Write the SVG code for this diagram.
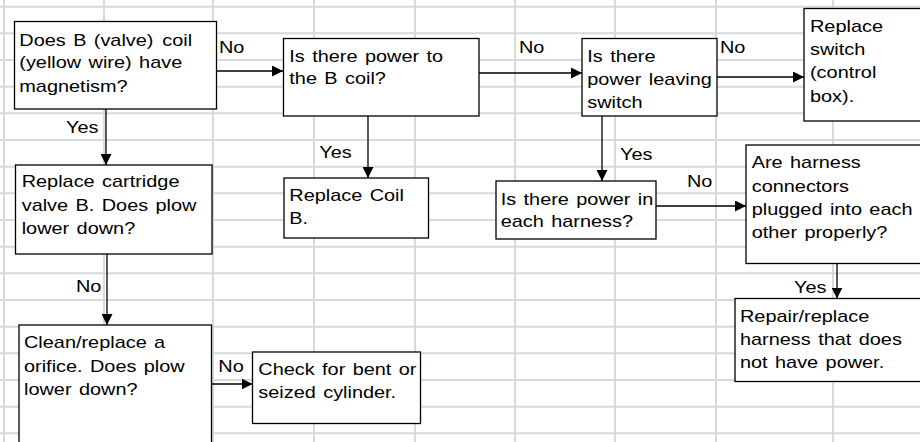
<svg xmlns="http://www.w3.org/2000/svg" width="920" height="442" viewBox="0 0 920 442">
  <style>
    .grid line { stroke: #d9d9d9; stroke-width: 2; }
    .box { fill: #ffffff; stroke: #000000; stroke-width: 1.3; }
    .t { font-family: "Liberation Sans", Arial, sans-serif; font-size: 17px; fill: #000000; word-spacing: 1.6px; }
    .conn line { stroke: #000000; stroke-width: 1.3; fill: none; }
    .arr { marker-end: url(#ah); }
  </style>
  <defs>
    <marker id="ah" markerUnits="userSpaceOnUse" markerWidth="11" markerHeight="11" refX="11" refY="5.5" orient="auto">
      <path d="M0,0 L11,5.5 L0,11 z" fill="#000000"/>
    </marker>
  </defs>
  <rect x="0" y="0" width="920" height="442" fill="#ffffff"/>
  <g class="grid" id="grid">
    <line x1="4" y1="0" x2="4" y2="442"/>
    <line x1="104" y1="0" x2="104" y2="442"/>
    <line x1="213" y1="0" x2="213" y2="442"/>
    <line x1="314" y1="0" x2="314" y2="442"/>
    <line x1="415" y1="0" x2="415" y2="442"/>
    <line x1="515" y1="0" x2="515" y2="442"/>
    <line x1="615" y1="0" x2="615" y2="442"/>
    <line x1="716" y1="0" x2="716" y2="442"/>
    <line x1="833" y1="0" x2="833" y2="442"/>
    <line x1="0" y1="6.7" x2="920" y2="6.7"/>
    <line x1="0" y1="33.3" x2="920" y2="33.3"/>
    <line x1="0" y1="60" x2="920" y2="60"/>
    <line x1="0" y1="86.7" x2="920" y2="86.7"/>
    <line x1="0" y1="113.3" x2="920" y2="113.3"/>
    <line x1="0" y1="140" x2="920" y2="140"/>
    <line x1="0" y1="166.7" x2="920" y2="166.7"/>
    <line x1="0" y1="193.3" x2="920" y2="193.3"/>
    <line x1="0" y1="220" x2="920" y2="220"/>
    <line x1="0" y1="246.7" x2="920" y2="246.7"/>
    <line x1="0" y1="273.3" x2="920" y2="273.3"/>
    <line x1="0" y1="300" x2="920" y2="300"/>
    <line x1="0" y1="326.7" x2="920" y2="326.7"/>
    <line x1="0" y1="353.3" x2="920" y2="353.3"/>
    <line x1="0" y1="380" x2="920" y2="380"/>
    <line x1="0" y1="406.7" x2="920" y2="406.7"/>
    <line x1="0" y1="433.3" x2="920" y2="433.3"/>
  </g>

  <g id="n-magnetism">
    <rect class="box" x="14.5" y="21.5" width="202" height="87.5"/>
    <text class="t" transform="translate(19.3 0) scale(1.17 1)"><tspan x="0" y="45.7">Does B (valve)</tspan><tspan x="122.2" y="45.7">coil</tspan><tspan x="0" y="68.3">(yellow wire) have</tspan><tspan x="0" y="91.7">magnetism?</tspan></text>
  </g>
  <g id="n-power-coil">
    <rect class="box" x="283.5" y="38.5" width="195.5" height="77.5"/>
    <text class="t" transform="translate(289.3 0) scale(1.17 1)"><tspan x="0" y="62">Is there power to</tspan><tspan x="0" y="84.3">the B coil?</tspan></text>
  </g>
  <g id="n-power-switch">
    <rect class="box" x="582" y="38.5" width="135" height="77.5"/>
    <text class="t" transform="translate(587.3 0) scale(1.17 1)"><tspan x="0" y="62.3">Is there</tspan><tspan x="0" y="85">power leaving</tspan><tspan x="0" y="108.3">switch</tspan></text>
  </g>
  <g id="n-replace-switch">
    <rect class="box" x="804" y="8.5" width="130" height="112.5"/>
    <text class="t" transform="translate(810 0) scale(1.17 1)"><tspan x="0" y="31.7">Replace</tspan><tspan x="0" y="55">switch</tspan><tspan x="0" y="78.5">(control</tspan><tspan x="0" y="101.7">box).</tspan></text>
  </g>
  <g id="n-power-harness">
    <rect class="box" x="496" y="181" width="160" height="58"/>
    <text class="t" transform="translate(500.7 0) scale(1.17 1)"><tspan x="0" y="205">Is there power in</tspan><tspan x="0" y="227.5">each harness?</tspan></text>
  </g>
  <g id="n-connectors">
    <rect class="box" x="746" y="145" width="190" height="118.5"/>
    <text class="t" transform="translate(751.7 0) scale(1.17 1)"><tspan x="0" y="168.3">Are harness</tspan><tspan x="0" y="191.7">connectors</tspan><tspan x="0" y="215">plugged into each</tspan><tspan x="0" y="238.5">other properly?</tspan></text>
  </g>
  <g id="n-repair-harness">
    <rect class="box" x="735" y="298.5" width="200" height="83"/>
    <text class="t" transform="translate(740 0) scale(1.17 1)"><tspan x="0" y="321.7">Repair/replace</tspan><tspan x="0" y="345">harness that does</tspan><tspan x="0" y="368.3">not have power.</tspan></text>
  </g>
  <g id="n-replace-coil">
    <rect class="box" x="284" y="178" width="144.5" height="60"/>
    <text class="t" transform="translate(289.3 0) scale(1.17 1)"><tspan x="0" y="201">Replace Coil</tspan><tspan x="0" y="224">B.</tspan></text>
  </g>
  <g id="n-cartridge">
    <rect class="box" x="15.5" y="165" width="196.5" height="89"/>
    <text class="t" transform="translate(21.7 0) scale(1.17 1)"><tspan x="0" y="186.7">Replace cartridge</tspan><tspan x="0" y="211">valve B. Does plow</tspan><tspan x="0" y="234.5">lower down?</tspan></text>
  </g>
  <g id="n-orifice">
    <rect class="box" x="19" y="325" width="192.5" height="130"/>
    <text class="t" transform="translate(24 0) scale(1.17 1)"><tspan x="0" y="348.3">Clean/replace a</tspan><tspan x="0" y="371.7">orifice. Does plow</tspan><tspan x="0" y="395">lower down?</tspan></text>
  </g>
  <g id="n-cylinder">
    <rect class="box" x="252.5" y="352" width="168" height="71.5"/>
    <text class="t" transform="translate(258.3 0) scale(1.17 1)"><tspan x="0" y="375">Check for bent or</tspan><tspan x="0" y="398.3">seized cylinder.</tspan></text>
  </g>

  <g class="conn" id="connectors">
    <line class="arr" x1="217" y1="71" x2="283" y2="71"/>
    <line class="arr" x1="479" y1="73" x2="582" y2="73"/>
    <line class="arr" x1="717" y1="77" x2="804" y2="77"/>
    <line class="arr" x1="106" y1="109" x2="106" y2="165"/>
    <line class="arr" x1="368" y1="116" x2="368" y2="178"/>
    <line class="arr" x1="602" y1="116" x2="602" y2="181"/>
    <line class="arr" x1="656" y1="206" x2="746" y2="206"/>
    <line class="arr" x1="837" y1="263.5" x2="837" y2="298.5"/>
    <line class="arr" x1="107" y1="254" x2="107" y2="325"/>
    <line class="arr" x1="211.5" y1="384" x2="252.5" y2="384"/>
    <text class="t" transform="translate(219 0) scale(1.17 1)" x="0" y="53">No</text>
    <text class="t" transform="translate(519 0) scale(1.17 1)" x="0" y="53">No</text>
    <text class="t" transform="translate(720 0) scale(1.17 1)" x="0" y="53">No</text>
    <text class="t" transform="translate(66 0) scale(1.17 1)" x="0" y="132.7">Yes</text>
    <text class="t" transform="translate(319.3 0) scale(1.17 1)" x="0" y="158.3">Yes</text>
    <text class="t" transform="translate(620 0) scale(1.17 1)" x="0" y="160">Yes</text>
    <text class="t" transform="translate(687 0) scale(1.17 1)" x="0" y="186.7">No</text>
    <text class="t" transform="translate(794 0) scale(1.17 1)" x="0" y="293.3">Yes</text>
    <text class="t" transform="translate(76 0) scale(1.17 1)" x="0" y="291.7">No</text>
    <text class="t" transform="translate(218.3 0) scale(1.17 1)" x="0" y="371.7">No</text>
  </g>
</svg>
